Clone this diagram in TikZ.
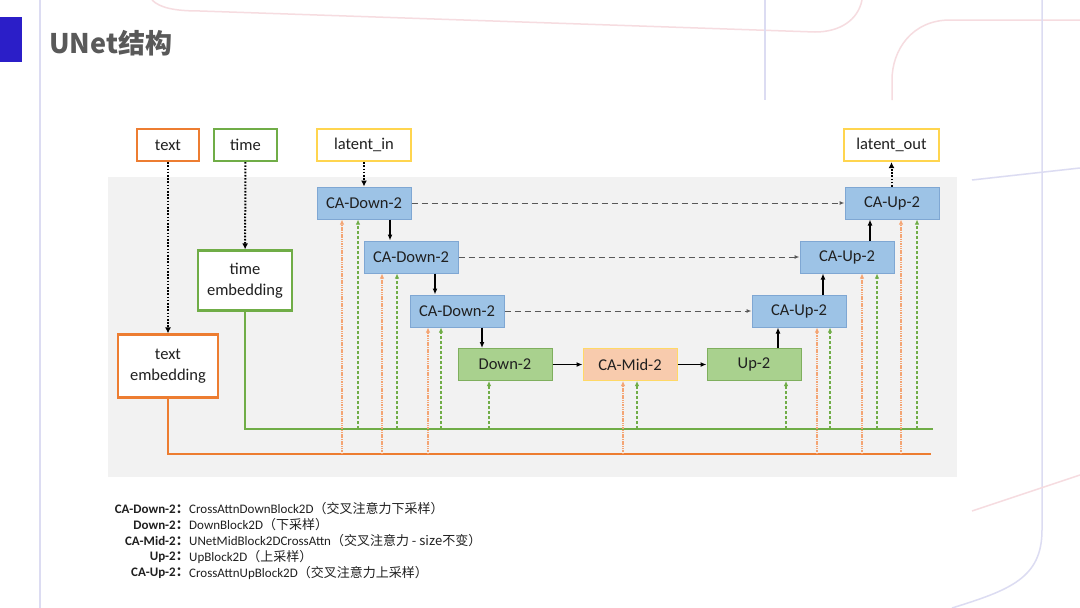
\documentclass[tikz,border=0pt]{standalone}
\usepackage{fontspec}
\setmainfont{Carlito}
\newfontfamily\cjk{Noto Sans CJK SC}
\usetikzlibrary{arrows.meta}
\definecolor{txt}{HTML}{202020}
\definecolor{bfill}{HTML}{9DC3E6}
\definecolor{bdraw}{HTML}{7FA7D3}
\definecolor{gfill}{HTML}{A9D18E}
\definecolor{gdraw}{HTML}{7FAF5E}
\definecolor{mfill}{HTML}{F8CBAD}
\definecolor{mdraw}{HTML}{FFD966}
\definecolor{ora}{HTML}{ED7D31}
\definecolor{oral}{HTML}{F4A574}
\definecolor{grn}{HTML}{70AD47}
\definecolor{yel}{HTML}{FFD54F}
\definecolor{panel}{HTML}{F2F2F2}
\definecolor{lav}{HTML}{DCDCF2}
\definecolor{pnk}{HTML}{F6DCE0}
\definecolor{titleblue}{HTML}{2B1EC8}
\tikzset{
  x=1pt, y=-1pt,
  every node/.style={inner sep=0pt, text=txt, font=\fontsize{16.5}{18}\selectfont},
  inbox/.style={draw, line width=2.2pt, fill=white, minimum height=32pt, align=center},
  blk/.style={draw, line width=1pt, minimum width=94pt, minimum height=32pt},
  blue/.style={blk, fill=bfill, draw=bdraw},
  green/.style={blk, fill=gfill, draw=gdraw},
  mid/.style={blk, fill=mfill, draw=mdraw},
  dotarr/.style={line width=2pt, dash pattern=on 1.6pt off 1.6pt, -{Latex[length=6pt,width=6pt]}},
  solarr/.style={line width=1.5pt, -{Latex[length=6pt,width=5pt]}},
  skiparr/.style={line width=1pt, draw=black!65, dash pattern=on 6pt off 4pt, -{Latex[length=5pt,width=4pt]}},
  oarr/.style={line width=1.2pt, draw=oral, dash pattern=on 1.5pt off 0.8pt, -{Latex[length=5pt,width=4.5pt]}},
  garr/.style={line width=1.2pt, draw=grn, dash pattern=on 3pt off 2pt, -{Latex[length=5pt,width=4.5pt]}},
  bus/.style={line width=1.4pt},
  lab/.style={font=\fontsize{13}{15}\selectfont\bfseries, anchor=east},
  desc/.style={font=\fontsize{13}{15}\selectfont, anchor=west}
}
\begin{document}
\begin{tikzpicture}
\useasboundingbox (0,0) rectangle (1080,608);
\fill[white] (0,0) rectangle (1080,608);
% decorations
\draw[lav, line width=1.5pt] (40,0) -- (40,608);
\fill[titleblue] (0,17) rectangle (22,62);
\draw[pnk, line width=1.5pt] (152,0) .. controls (160,8) and (175,11) .. (200,11) -- (815,32) .. controls (840,32) and (858,20) .. (862,0);
\draw[lav, line width=1.5pt] (765,0) -- (765,100);
\draw[pnk, line width=1.5pt] (1080,20) -- (950,20) .. controls (912,20) and (892,50) .. (892,80) -- (892,100);
\draw[lav, line width=1.5pt] (1042,0) -- (1042,530) .. controls (1042,578) and (1010,590) .. (952,608);
\draw[lav, line width=1.5pt] (972,180) -- (1080,168);
\draw[pnk, line width=1.5pt] (972,511) -- (1080,475);
\node[anchor=west, text=black!65, font=\fontsize{27}{30}\selectfont\cjk\bfseries] (title) at (49,43) {UNet结构};
% panel
\fill[panel] (108,177) rectangle (957,477);
% input boxes
\node[inbox, draw=ora, minimum width=62pt] (text) at (168,145) {text};
\node[inbox, draw=grn, minimum width=63pt] (time) at (245.5,145) {time};
\node[inbox, draw=yel, minimum width=94pt] (lin) at (364,145) {latent\_in};
\node[inbox, draw=yel, minimum width=95pt] (lout) at (891.5,145) {latent\_out};
\node[inbox, draw=grn, minimum width=94pt, minimum height=60pt, font=\fontsize{16.5}{21.5}\selectfont] (temb) at (245,280.5) {time\\embedding};
\node[inbox, draw=ora, minimum width=100pt, minimum height=63pt, font=\fontsize{16.5}{21.5}\selectfont] (xemb) at (168,366) {text\\embedding};
% blocks
\node[blue] (d1) at (364,203) {CA-Down-2};
\node[blue] (d2) at (411,257) {CA-Down-2};
\node[blue] (d3) at (457,311) {CA-Down-2};
\node[green] (dn) at (505,364.5) {Down-2};
\node[mid] (md) at (630,364.5) {CA-Mid-2};
\node[green] (up) at (754,364.5) {Up-2};
\node[blue] (u3) at (799,311) {CA-Up-2};
\node[blue] (u2) at (847,257) {CA-Up-2};
\node[blue] (u1) at (892,203) {CA-Up-2};
% dotted inputs
\draw[dotarr] (text) -- (xemb);
\draw[dotarr] (time) -- (temb);
\draw[dotarr] (lin) -- (d1);
\draw[dotarr] (u1.north -| lout) -- (lout);
% main path
\coordinate (c1) at (390,0);
\coordinate (c2) at (435,0);
\coordinate (c3) at (482,0);
\coordinate (c4) at (778,0);
\coordinate (c5) at (823,0);
\coordinate (c6) at (870,0);
\draw[solarr] (d1.south -| c1) -- (d2.north -| c1);
\draw[solarr] (d2.south -| c2) -- (d3.north -| c2);
\draw[solarr] (d3.south -| c3) -- (dn.north -| c3);
\draw[solarr] (dn) -- (md);
\draw[solarr] (md) -- (up);
\draw[solarr] (up.north -| c4) -- (u3.south -| c4);
\draw[solarr] (u3.north -| c5) -- (u2.south -| c5);
\draw[solarr] (u2.north -| c6) -- (u1.south -| c6);
% skip connections
\draw[skiparr] (d1) -- (u1);
\draw[skiparr] (d2) -- (u2);
\draw[skiparr] (d3) -- (u3);
% buses
\coordinate (gend) at (933,429);
\coordinate (oend) at (931,454);
\draw[bus, grn] (temb.south) |- (gend);
\draw[bus, ora] (xemb.south) |- (oend);
% orange feeds
\foreach \x/\n in {342/d1, 382/d2, 428/d3, 623/md, 817/u3, 862/u2, 901/u1}{
  \coordinate (o\n) at (\x,454);
  \draw[oarr] (o\n) -- (o\n |- \n.south);
}
% green feeds
\foreach \x/\n in {358/d1, 397/d2, 441/d3, 489/dn, 637/md, 786/up, 830/u3, 877/u2, 917/u1}{
  \coordinate (g\n) at (\x,429);
  \draw[garr] (g\n) -- (g\n |- \n.south);
}
% legend
\node[lab] (l1) at (189,509) {CA-Down-2\cjk{：}};
\node[desc] (t1) at (189,509) {CrossAttnDownBlock2D\cjk{（交叉注意力下采样）}};
\node[lab] (l2) at (189,525) {Down-2\cjk{：}};
\node[desc] (t2) at (189,525) {DownBlock2D\cjk{（下采样）}};
\node[lab] (l3) at (189,541) {CA-Mid-2\cjk{：}};
\node[desc] (t3) at (189,541) {UNetMidBlock2DCrossAttn\cjk{（交叉注意力 - }size\cjk{不变）}};
\node[lab] (l4) at (189,557) {Up-2\cjk{：}};
\node[desc] (t4) at (189,557) {UpBlock2D\cjk{（上采样）}};
\node[lab] (l5) at (189,573) {CA-Up-2\cjk{：}};
\node[desc] (t5) at (189,573) {CrossAttnUpBlock2D\cjk{（交叉注意力上采样）}};
\end{tikzpicture}
\end{document}
